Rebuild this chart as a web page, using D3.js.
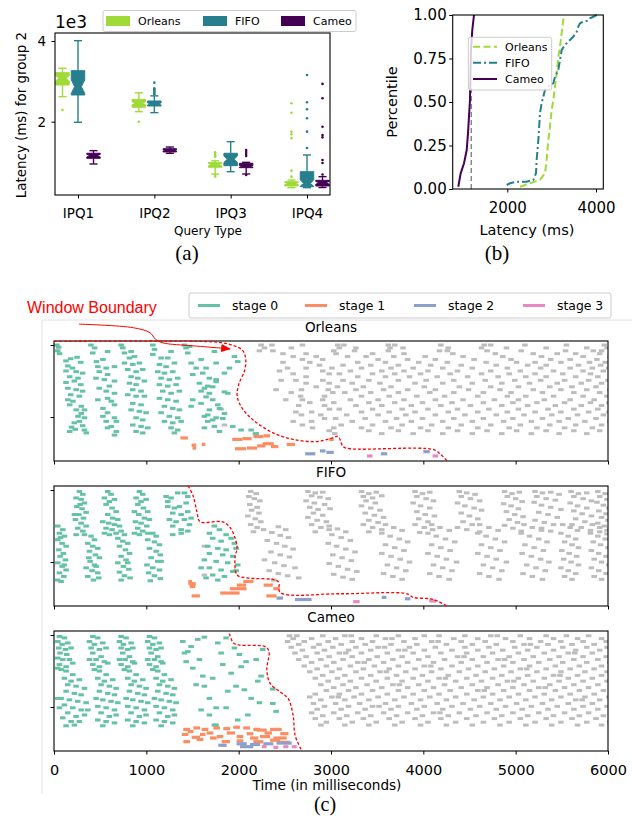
<!DOCTYPE html>
<html><head><meta charset="utf-8">
<script src="https://cdn.jsdelivr.net/npm/d3@7/dist/d3.min.js"></script>
<style>
html,body{margin:0;padding:0;background:#fff;}
svg{display:block;}
</style></head>
<body>
<svg id="fig" width="632" height="818"></svg>
<script>
// ================= Panel (a): box plots =================
const queryTypes = ["IPQ1","IPQ2","IPQ3","IPQ4"];
const systems = ["Orleans","FIFO","Cameo"];
// [whiskerLow, Q1, notchLow, median, notchHigh, Q3, whiskerHigh] per query type (ms)
const orleansBox = [[2620,2910,3010,3075,3140,3215,3323],[2248,2357,2420,2456,2495,2554,2719],[700,870,905,936,965,985,1030],[365,407,440,466,490,513,555]];
const fifoBox    = [[1985,2662,2700,2868,3040,3264,4008],[2224,2389,2415,2440,2465,2513,2640],[761,910,990,1068,1150,1217,1505],[365,390,400,470,560,761,1175]];
const cameoBox   = [[952,1093,1125,1158,1190,1217,1282],[1217,1250,1275,1290,1305,1330,1372],[704,860,875,893,915,969,993],[368,407,450,489,520,547,638]];
const orleansOutliers = [[2290],[2000],[1240,1200,1160,1130,660,640],[2456,2223,1752,1688,1590,786,638]];
const fifoOutliers    = [[],[2967,2830,2800,2770,2740,2710,2680],[],[3158,2480,2307,2084,1753,1347]];
const cameoOutliers   = [[],[],[1300,1250,1200,1150,680],[2937,2582,1876,1670,1612,1052,977,690]];
const latencyTicks = [2000,4000];

// ================= Panel (b): CDF =================
const cdfOrleans = [[2286,0.013],[2512,0.033],[2737,0.052],[2850,0.09],[2888,0.167],[2925,0.28],[2963,0.358],[3000,0.454],[3038,0.51],[3075,0.588],[3113,0.665],[3150,0.76],[3188,0.818],[3226,0.895],[3263,0.971],[3290,1.0]];
const cdfFifo = [[1986,0.023],[2061,0.033],[2211,0.042],[2437,0.042],[2586,0.052],[2647,0.09],[2662,0.167],[2700,0.28],[2737,0.435],[2775,0.493],[2850,0.569],[2963,0.598],[3037,0.607],[3075,0.645],[3150,0.684],[3188,0.741],[3226,0.799],[3301,0.828],[3414,0.856],[3488,0.875],[3565,0.904],[3601,0.933],[3639,0.952],[3714,0.962],[3826,0.968],[3865,0.981],[3939,0.99],[4016,1.0],[4060,1.0]];
const cdfCameo = [[895,0.013],[949,0.09],[1024,0.148],[1085,0.224],[1114,0.32],[1136,0.416],[1159,0.51],[1166,0.607],[1181,0.799],[1211,0.914],[1249,1.0]];
const cdfMarker = [[1188,0],[1188,0.6]];
const cdfXTicks = [2000,4000];
const cdfYTicks = [0,0.25,0.5,0.75,1.0];

// ================= Panel (c): task timelines =================
const stageNames = ["stage 0","stage 1","stage 2","stage 3"];
const timeTicks = [0,1000,2000,3000,4000,5000,6000];
// marks: [start ms, row]   (stage 1-3: [start ms, row, duration ms])
const orleansStage0 = [
0,0, 20,3, 10,8, 30,12, 100,22, 150,19, 220,17, 260,24, 120,29, 170,32, 100,36, 210,37, 280,39, 140,44, 230,46, 100,52, 190,50, 260,55, 120,60, 210,62, 280,64, 150,69, 245,71, 120,76, 175,78, 140,83, 265,85, 210,90, 300,90, 265,95, 230,99, 300,101, 245,106, 190,108, 280,112, 160,114, 300,118, 320,122, 140,120, 200,117,
370,0, 410,4, 390,11, 550,9, 430,23, 500,20, 445,30, 535,32, 625,30, 460,37, 550,41, 425,46, 515,48, 625,50, 460,60, 570,57, 535,64, 625,67, 445,76, 550,74, 590,78, 625,83, 500,88, 550,94, 625,101, 500,99, 535,106, 645,106, 590,113, 645,120, 625,125, 550,115,
697,0, 715,4, 733,11, 805,9, 787,18, 841,16, 733,25, 823,27, 895,25, 769,34, 859,37, 931,34, 805,44, 877,46, 787,53, 859,55, 949,50, 823,62, 913,64, 769,69, 859,71, 949,71, 823,81, 913,83, 805,90, 895,92, 967,94, 859,101, 931,104, 823,111, 913,113, 985,115, 931,122, 859,120,
1040,0, 1058,6, 1040,13, 1130,18, 1238,9, 1202,18, 1112,27, 1184,30, 1274,25, 1094,37, 1166,39, 1256,37, 1130,46, 1220,48, 1310,46, 1112,55, 1202,57, 1292,55, 1148,64, 1238,67, 1328,64, 1112,74, 1202,76, 1292,78, 1166,85, 1256,88, 1328,90, 1130,94, 1220,99, 1310,101, 1166,106, 1256,108, 1347,106, 1238,115, 1310,118, 1274,122,
1383,0, 1400,4, 1419,11, 1440,2, 1455,25, 1563,20, 1509,32, 1473,41, 1581,39, 1653,46, 1545,53, 1635,57, 1726,48, 1563,64, 1653,67, 1473,76, 1563,81, 1689,76, 1455,85, 1653,90, 1762,88, 1599,99, 1726,101, 1635,106, 1707,113, 1599,115, 1762,120,
1707,9, 1924,16, 1960,23, 1726,25, 1870,32, 1617,32, 1816,39, 1726,51, 1689,58, 1599,60, 1816,65, 1852,67, 1617,72, 1744,83, 1816,95, 1635,97, 1798,102, 1689,104, 1906,113, 1996,118, 2105,118, 2159,123
];
const orleansGray = [
[0, 2213,2330,2660,3043,3110,3590,3660,4160,4630,4700,5070,5520,5930],
[4, 2250,2540,3060,3240,3610,3750,4240,4600,4870,5300,5740,5960],
[8, 2195,2340,3000,3225,3590,4145,4230,4660,5030,5510,5810,5900],
[12, 2450,2700,3025,3420,3760,4290,4750,5160,5420,5620,5880],
[16, 2560,2810,3150,3350,3650,3990,4400,4830,5250,5700,5990],
[20, 2660,2880,3480,3800,4100,4520,4920,5350,5560,5850],
[24, 2450,2740,3260,3560,3920,4230,4650,4980,5180,5460,5770,5940],
[28, 2845,3100,3400,3700,4050,4380,4760,5100,5300,5650,5890],
[32, 2500,2700,2980,3300,3620,3860,4180,4500,4880,5240,5560,5800,5980],
[36, 2412,2880,3180,3520,3760,4020,4340,4700,5020,5380,5700,5920],
[40, 2560,2950,3060,3420,3660,3940,4260,4600,4900,5180,5480,5780],
[44, 2700,3260,3560,3820,4120,4450,4780,5080,5300,5620,5860],
[49, 2430,2590,2881,3100,3380,3700,4000,4300,4640,4960,5240,5500,5760,5970],
[53, 2700,2950,3200,3500,3880,4180,4500,4820,5120,5420,5680,5900],
[58, 2810,3040,3320,3620,3980,4360,4700,5000,5340,5580,5840],
[62, 2376,2650,2940,3240,3540,3800,4100,4460,4800,5160,5460,5740,5990],
[66, 2540,2990,3120,3400,3700,4040,4300,4620,4920,5260,5600,5880],
[71, 2640,2900,3300,3600,3900,4200,4560,4880,5080,5380,5700,5960],
[76, 2480,2660,2880,3180,3480,3760,4100,4400,4740,5000,5280,5560,5820],
[80, 2740,3000,3380,3660,3960,4280,4620,4940,5200,5500,5780,5980],
[84, 2620,2900,3240,3520,3840,4160,4480,4820,5100,5400,5680,5900],
[89, 1780,2953,3060,3420,3740,4020,4340,4680,5000,5320,5600,5860],
[93, 2590,2760,3300,3600,3880,4240,4560,4880,5180,5460,5760,5980],
[97, 2650,2860,3140,3480,3780,4100,4420,4760,5060,5360,5640,5920],
[102, 2900,3020,3340,3680,3960,4300,4620,4940,5260,5540,5840],
[106, 2560,2760,3200,3560,3840,4180,4500,4840,5140,5440,5720,5990],
[111, 1816,2660,3080,3420,3740,4060,4380,4700,5020,5340,5620,5900],
[115, 2770,3000,3300,3620,3940,4240,4560,4900,5200,5500,5800],
[119, 2950,3380,3700,4020,4340,4660,4980,5300,5600,5880],
[123, 2150,3010,3520,3860,4180,4500,4820,5140,5440,5740]
];
const orleansStage1 = [[1370,129,80],[1490,139,50],[1500,143,40],[1600,138,40],[1930,131,110],[2040,130,100],[2160,127,110],[2270,126,70],[1960,144,120],[2090,143,110],[2200,140,90],[2260,137,120],[2350,141,80],[2520,138,90],[2980,131,50]];
const orleansStage2 = [[2720,151,110],[2880,147,60],[2950,149,80],[3540,151,70],[4000,148,70]];
const orleansStage3 = [[3390,154,60],[4100,154,60]];
const orleansBoundary = [[0,-5],[1600,-5],[1830,-3],[1950,1],[2040,7],[2075,18],[2065,35],[2000,55],[1985,72],[2040,88],[2156,104],[2373,122],[2589,131],[2849,134],[2990,130],[3077,127],[3131,141],[3207,144],[4106,145],[4182,151],[4258,161]];

const fifoStage0 = [
245,2, 282,6, 209,11, 264,13, 300,18, 217,23, 274,26, 318,31, 238,34, 289,39, 202,41, 264,46, 318,50, 227,53, 282,57, 209,62, 300,62, 253,20, 191,34,
552,2, 588,6, 516,11, 570,16, 625,13, 534,20, 599,25, 643,30, 552,34, 606,39, 498,44, 563,46, 625,48, 661,41, 534,53, 599,55, 643,60, 570,62, 516,60, 679,50,
895,2, 931,6, 859,11, 913,16, 967,13, 877,20, 939,25, 985,30, 888,34, 949,39, 852,44, 913,46, 975,50, 877,53, 931,57, 985,60, 895,62, 841,60, 1004,41, 841,30,
1184,9, 1238,11, 1310,4, 1383,4, 1419,9, 1202,23, 1274,25, 1328,23, 1256,32, 1347,34, 1419,30, 1220,41, 1292,44, 1383,41, 1455,39, 1256,50, 1347,55, 1419,57, 1256,62, 1347,60, 1437,48, 1202,16, 1401,18,
11,50, 65,55, 29,60, 83,64, 11,69, 58,74, 101,78, 22,83, 72,88, 36,92, 94,97, 11,101, 58,106, 101,111, 29,115, 76,120, 11,125, 47,127, 40,66, 80,104,
372,64, 408,69, 336,74, 390,78, 444,81, 354,85, 419,90, 462,94, 361,99, 408,104, 318,108, 383,112, 444,115, 336,120, 397,125, 455,122, 426,106, 347,94,
697,57, 733,62, 661,67, 715,71, 769,74, 679,78, 744,83, 787,88, 697,92, 751,97, 661,101, 722,106, 780,110, 679,114, 733,119, 794,122, 697,125, 769,101,
1040,60, 1076,64, 985,69, 1058,72, 1112,76, 1004,81, 1076,85, 1122,90, 1022,94, 1094,99, 976,104, 1040,108, 1112,111, 994,115, 1058,119, 1122,123, 1013,126, 1130,99,
1707,50, 1762,55, 1653,60, 1834,62, 1689,67, 1780,71, 1888,67, 1924,74, 1635,78, 1744,81, 1834,83, 1942,81, 1653,88, 1798,90, 1906,92, 1599,97, 1726,99, 1852,101, 1960,104, 1653,108, 1780,111, 1906,113, 1563,108, 1689,118, 1816,120, 1942,112, 1744,125, 1617,122
];
const fifoGray = [
1599,78, 1599,118,
2100,2, 2160,5, 2080,9, 2140,12, 2200,15, 2090,20, 2170,24, 2110,28, 2190,32, 2070,36, 2150,40, 2210,44, 2100,48, 2170,52, 2240,55, 2130,58,
2720,2, 2800,4, 2880,3, 2760,8, 2850,10, 2940,12, 2700,15, 2790,18, 2900,20, 2740,24, 2830,27, 2960,26, 2780,32, 2880,35, 2720,38, 2820,42, 2920,44, 2760,48, 2860,52, 2950,55, 2800,58,
3300,2, 3380,5, 3460,3, 3320,9, 3420,11, 3520,8, 3350,15, 3450,18, 3300,22, 3400,25, 3500,28, 3340,32, 3440,35, 3540,38, 3380,42, 3480,45, 3320,48, 3420,52, 3520,55, 3380,58,
3880,2, 3960,5, 4040,3, 3900,9, 4000,12, 4080,15, 3860,18, 3940,22, 4040,25, 3900,30, 3990,34, 4090,36, 3920,40, 4020,44, 3880,48, 3980,52, 4070,55, 3930,59,
4360,2, 4440,4, 4530,6, 4380,9, 4480,12, 4580,15, 4340,18, 4420,22, 4520,25, 4600,28, 4380,32, 4470,36, 4560,40, 4400,44, 4500,48, 4340,52, 4440,55, 4580,58,
4850,2, 4930,5, 5010,3, 4880,9, 4970,12, 5040,16, 4840,19, 4920,22, 5000,26, 4870,30, 4960,34, 5050,37, 4900,41, 4990,45, 4850,49, 4940,53, 5030,57,
5180,2, 5260,4, 5350,3, 5440,6, 5200,9, 5300,12, 5400,14, 5170,17, 5250,21, 5350,24, 5460,27, 5220,31, 5320,34, 5420,38, 5180,42, 5280,45, 5380,48, 5250,53, 5350,57,
5570,2, 5650,5, 5740,4, 5600,9, 5700,12, 5790,15, 5560,18, 5640,22, 5740,25, 5600,29, 5690,33, 5790,36, 5620,40, 5720,44, 5580,48, 5680,52, 5780,56,
5860,2, 5940,5, 5880,9, 5960,13, 5850,17, 5920,21, 5980,25, 5870,29, 5950,33, 5900,38, 5970,42, 5860,46, 5930,50, 5990,54, 5880,58, 5960,61,
2400,51, 2480,55, 2330,59, 2420,63, 2510,66, 2280,70, 2380,74, 2470,78, 2560,82, 2320,86, 2420,90, 2520,93, 2250,97, 2360,101, 2460,105, 2580,108, 2300,112, 2400,116, 2500,119, 2620,122, 2350,125,
2950,50, 3040,54, 3130,58, 2980,62, 3080,66, 3180,70, 2940,74, 3030,78, 3130,82, 3230,86, 2990,90, 3090,94, 3190,98, 2950,102, 3050,106, 3150,110, 3250,113, 3000,117, 3100,121, 3200,124,
3560,48, 3650,52, 3740,56, 3520,60, 3610,64, 3710,68, 3800,72, 3560,76, 3660,80, 3760,84, 3520,88, 3620,92, 3720,96, 3820,100, 3580,104, 3680,108, 3780,112, 3540,116, 3640,120, 3740,124,
4060,48, 4150,52, 4250,56, 4020,60, 4110,64, 4210,68, 4310,72, 4060,76, 4160,80, 4260,84, 4020,88, 4120,92, 4220,96, 4330,100, 4080,104, 4180,108, 4280,112, 4040,116, 4140,120, 4250,124,
4580,48, 4680,52, 4780,56, 4560,60, 4650,64, 4750,68, 4850,72, 4600,76, 4700,80, 4800,84, 4560,88, 4660,92, 4760,96, 4870,100, 4620,104, 4720,108, 4820,112, 4580,116, 4680,120, 4790,124,
5060,48, 5150,52, 5250,56, 5030,60, 5120,64, 5220,68, 5310,72, 5070,76, 5170,80, 5270,84, 5040,88, 5140,92, 5240,96, 5330,100, 5090,104, 5190,108, 5290,112, 5050,116, 5150,120, 5260,124,
5480,48, 5560,52, 5640,56, 5460,60, 5540,64, 5620,68, 5500,72, 5580,76, 5650,80, 5470,84, 5550,88, 5630,92, 5490,96, 5570,100, 5650,104, 5460,108, 5540,112, 5620,116, 5500,120, 5580,124,
5800,48, 5880,52, 5960,56, 5780,60, 5860,64, 5940,68, 5810,72, 5890,76, 5970,80, 5790,84, 5870,88, 5950,92, 5820,96, 5900,100, 5980,104, 5790,108, 5870,112, 5950,116, 5820,120, 5900,124
];
const fifoStage1 = [[1455,127,40],[1455,130,80],[1470,134,60],[1490,147,90],[1800,143,210],[1905,137,180],[1980,132,100],[2050,127,110],[2270,132,100],[2300,147,110],[2375,137,70]];
const fifoStage2 = [[2410,150,70],[2610,152,180],[3550,149,50],[3800,151,60]];
const fifoStage3 = [[3240,155,70],[4065,154,75]];
const fifoBoundary = [[1452,-6],[1506,8],[1549,31],[1582,44],[1820,44],[1907,52],[1983,79],[1961,93],[1983,118],[2091,122],[2427,127],[2449,142],[3099,144],[3824,144],[3890,149],[4074,151],[4150,154],[4258,161]];

const cameoStage0 = [
29,2, 83,4, 11,9, 58,13, 119,11, 22,18, 94,20, 155,18, 36,25, 108,27, 11,32, 65,34, 137,34, 29,41, 101,44, 173,39, 47,48, 11,46,
101,50, 173,55, 83,60, 155,64, 245,62, 119,69, 209,71, 300,74, 101,78, 191,81, 264,83, 47,88, 137,90, 227,92, 318,94, 83,97, 173,101, 264,104, 336,104, 119,108, 209,113, 300,111, 65,115, 155,120, 245,120, 101,126, 191,125, 29,101, 11,88,
390,2, 444,4, 354,9, 408,13, 498,11, 372,18, 462,20, 534,18, 390,25, 480,30, 354,34, 426,34, 516,37, 390,41, 462,44, 552,39, 408,48,
462,50, 534,55, 444,60, 516,64, 606,62, 480,69, 570,71, 643,74, 462,78, 552,81, 625,83, 426,88, 498,90, 588,92, 661,94, 444,99, 534,101, 625,104, 480,108, 570,113, 643,111, 444,118, 534,120, 625,122, 498,126,
697,2, 751,4, 679,9, 722,13, 805,11, 697,18, 769,20, 823,18, 715,25, 787,30, 679,34, 740,34, 823,37, 697,41, 769,44, 841,39, 733,48,
787,50, 859,55, 769,60, 841,64, 931,62, 805,69, 895,71, 967,74, 787,78, 877,81, 949,83, 751,88, 823,90, 913,92, 985,94, 769,99, 859,101, 949,104, 805,108, 895,113, 967,111, 769,118, 859,120, 949,122, 823,126,
1004,2, 1058,4, 985,9, 1040,13, 1112,11, 1004,18, 1076,20, 1130,18, 1022,25, 1094,30, 985,34, 1058,34, 1130,37, 1004,41, 1076,44, 1148,39, 1040,48,
1094,50, 1166,55, 1076,60, 1148,64, 1238,62, 1112,69, 1202,71, 1274,74, 1094,78, 1184,81, 1256,83, 1058,88, 1130,90, 1220,92, 1292,94, 1076,99, 1166,101, 1256,104, 1112,108, 1202,113, 1274,111, 1076,118, 1166,120, 1256,122, 1130,126,
1365,9, 1419,23, 1455,16, 1527,6, 1599,3, 1401,37, 1473,46, 1545,34, 1581,57, 1599,71, 1689,60, 1653,88, 1726,101, 1707,125, 1563,104, 1653,111, 1509,69, 1383,25,
1744,11, 1834,4, 1780,25, 1924,18, 1978,27, 1798,41, 1888,53, 1996,44, 2050,37, 2159,34, 1852,78, 1942,71, 2032,76, 2105,88, 2177,64, 2213,57, 1834,101, 1960,118, 2069,111, 2195,94, 2230,20, 2340,75, 2375,106, 2340,95, 1725,125
];
const cameoGray = [
[1, 2520,2600,2880,3120,3190,3460,3700,3980,4140,4420,4700,4770,5020,5300,5520,5760],
[5, 2560,2760,3020,3300,3560,3630,3880,4300,4560,4860,5120,5380,5640,5900],
[9, 2500,2680,2940,3200,3420,3760,4060,4130,4380,4640,4940,5240,5460,5700,5950],
[13, 2620,2840,3080,3340,3620,3900,4220,4500,4760,5060,5130,5320,5580,5820],
[17, 2540,2780,2990,3240,3480,3550,3820,4100,4420,4680,4960,5200,5480,5740,5960],
[21, 2660,2900,3160,3400,3700,3770,3980,4280,4560,4830,5100,5380,5620,5880],
[25, 2580,2820,3060,3130,3300,3580,3860,4160,4440,4720,5000,5280,5540,5610,5800],
[30, 2700,2950,3200,3470,3740,4020,4340,4410,4620,4900,5160,5440,5700,5950],
[34, 2620,2860,3100,3380,3640,3920,4200,4500,4780,4850,5060,5340,5600,5860],
[38, 2760,3000,3260,3330,3540,3800,4080,4380,4660,4940,5220,5480,5740,5990],
[43, 2680,2920,3180,3440,3700,3980,4050,4280,4560,4840,5120,5400,5660,5900],
[47, 2820,3060,3320,3600,3880,4160,4460,4740,5020,5090,5300,5560,5820],
[51, 2740,2980,3240,3500,3570,3780,4060,4360,4640,4920,5200,5460,5720,5960],
[56, 2880,3120,3400,3680,3960,4240,4540,4820,5100,5380,5450,5640,5900],
[60, 2800,3040,3300,3580,3860,4140,4210,4440,4720,5000,5280,5540,5800],
[64, 2940,3180,3460,3740,4020,4320,4600,4880,4950,5160,5440,5700,5960],
[69, 2860,3100,3360,3640,3710,3920,4200,4500,4780,5060,5340,5600,5860],
[73, 3000,3240,3520,3800,4080,4380,4660,4940,5220,5290,5500,5760],
[77, 2920,3160,3420,3700,3980,4260,4560,4630,4840,5120,5400,5660,5920],
[82, 2800,3060,3300,3580,3860,4140,4440,4720,5000,5280,5560,5820],
[86, 2740,2980,3050,3220,3480,3760,4040,4320,4620,4900,5180,5460,5720,5980],
[90, 2860,3120,3380,3660,3940,4220,4520,4800,5080,5360,5620,5690,5880],
[95, 2780,3020,3280,3560,3840,4120,4400,4700,4980,5260,5540,5800],
[99, 2900,3160,3420,3490,3700,3980,4280,4580,4860,5140,5420,5700,5960],
[103, 2820,3080,3340,3620,3900,4180,4480,4760,5040,5320,5600,5860],
[108, 2760,3000,3260,3540,3800,4080,4150,4360,4660,4940,5220,5500,5760],
[112, 2880,3140,3400,3680,3960,4240,4540,4820,5100,5380,5660,5920],
[116, 2800,3060,3320,3600,3880,4160,4440,4740,5020,5300,5580,5840],
[121, 2920,3200,3460,3740,4020,4320,4620,4900,5180,5460,5740,5990],
[125, 2860,3120,3380,3660,3940,4220,4500,4800,5080,5360,5640,5900]
];
const cameoStage1 = [[1400,131,73],[1509,129,72],[1599,131,72],[1726,129,72],[1834,130,72],[1942,128,72],[2050,129,73],[2159,131,72],[1383,138,72],[1491,142,90],[1653,136,73],[1762,141,72],[1870,136,90],[1978,141,72],[2087,137,72],[1401,148,72],[1545,145,72],[1689,143,73],[1816,148,90],[1978,147,72],[2123,143,90],[2195,132,108],[2340,131,126],[2231,141,109],[2376,143,144],[2159,148,108],[2340,146,108],[2412,149,144],[1450,134,60],[1580,138,60],[2280,136,80],[2450,137,90]];
const cameoStage2 = [[1780,153,90],[1978,151,109],[2015,155,144],[2123,152,108],[2267,151,109],[2412,150,163]];
const cameoStage3 = [[2250,155,53],[2376,156,54],[2484,155,54],[2575,155,53]];
const cameoBoundary = [[1899,-2],[1943,11],[2015,14],[2286,16],[2329,23],[2305,48],[2340,67],[2449,79],[2535,88],[2589,111],[2611,139],[2684,161]];
// annotation arrow path (ms, row) in the Orleans panel
const annotationPath = [[270,-29],[860,-24],[1040,-17],[1100,-8],[1180,-3],[1500,1],[1830,4.5],[1907,5.5]];

// ================= styles =================
const sysColors = ["#a0da39","#277f8e","#440154"];
const stageColors = ["#66c2a5","#fc8d62","#8da0cb","#e78ac3"];
const grayColor = "#bdbdbd";
const FONT = "DejaVu Sans, sans-serif";

const svg = d3.select("#fig");

function pairs(flat){const o=[];for(let i=0;i<flat.length;i+=2)o.push([flat[i],flat[i+1]]);return o;}
function rows(r){const o=[];r.forEach(a=>a.slice(1).forEach(x=>o.push([x,a[0]])));return o;}
function styleAxis(g,size){
  g.select(".domain").remove();
  g.selectAll(".tick line").attr("stroke","#000").attr("stroke-width",1);
  g.selectAll(".tick text").attr("font-family",FONT).attr("font-size",size).attr("fill","#000");
}

// ---------------- Panel (a) ----------------
(function(){
  const g = svg.append("g");
  const L=55,R=330,T=33,B=195;
  const y = d3.scaleLinear().domain([183,4198]).range([B,T]);
  const x = d3.scalePoint().domain(queryTypes).range([78,307]);
  const off = d3.scalePoint().domain(systems).range([-15.5,15.5]);
  const bw = 13.5;
  const boxes=[orleansBox,fifoBox,cameoBox], outs=[orleansOutliers,fifoOutliers,cameoOutliers];
  systems.forEach((s,si)=>{
    const col=sysColors[si];
    queryTypes.forEach((q,qi)=>{
      const cx=x(q)+off(s);
      const [wl,q1,nl,md,nh,q3,wh]=boxes[si][qi];
      g.append("line").attr("x1",cx).attr("x2",cx).attr("y1",y(q3)).attr("y2",y(wh)).attr("stroke",col).attr("stroke-width",1.4);
      g.append("line").attr("x1",cx).attr("x2",cx).attr("y1",y(q1)).attr("y2",y(wl)).attr("stroke",col).attr("stroke-width",1.4);
      [wl,wh].forEach(v=>g.append("line").attr("x1",cx-bw*0.3).attr("x2",cx+bw*0.3).attr("y1",y(v)).attr("y2",y(v)).attr("stroke",col).attr("stroke-width",1.4));
      const l=cx-bw/2,r=cx+bw/2,n=bw/4;
      const p=`M${l},${y(q1)}L${l},${y(nl)}L${l+n},${y(md)}L${l},${y(nh)}L${l},${y(q3)}L${r},${y(q3)}L${r},${y(nh)}L${r-n},${y(md)}L${r},${y(nl)}L${r},${y(q1)}Z`;
      g.append("path").attr("d",p).attr("fill",col).attr("stroke",col).attr("stroke-width",1);
      outs[si][qi].forEach(v=>g.append("circle").attr("cx",cx).attr("cy",y(v)).attr("r",1.3).attr("fill",col));
    });
  });
  g.append("rect").attr("x",L).attr("y",T).attr("width",R-L).attr("height",B-T).attr("fill","none").attr("stroke","#000").attr("stroke-width",1.1);
  const ya=g.append("g").attr("transform",`translate(${L},0)`).call(d3.axisLeft(y).tickValues(latencyTicks).tickFormat(d=>d/1000).tickSize(3.5).tickPadding(5.5));
  styleAxis(ya,13.5);
  const xa=g.append("g").attr("transform",`translate(0,${B})`).call(d3.axisBottom(x).tickSize(3.5).tickPadding(9.9));
  styleAxis(xa,13.5);
  g.append("text").attr("x",55).attr("y",28).attr("font-family",FONT).attr("font-size",17).text("1e3");
  g.append("text").attr("transform","translate(26,115) rotate(-90)").attr("text-anchor","middle").attr("font-family",FONT).attr("font-size",13.4).text("Latency (ms) for group 2");
  g.append("text").attr("x",208).attr("y",235).attr("text-anchor","middle").attr("font-family",FONT).attr("font-size",12).text("Query Type");
  g.append("text").attr("x",187).attr("y",260).attr("text-anchor","middle").attr("font-family","Liberation Serif, serif").attr("font-size",21).text("(a)");
  // legend
  g.append("rect").attr("x",103).attr("y",10.5).attr("width",253).attr("height",21).attr("fill","#fff").attr("fill-opacity",0.85).attr("stroke","#ccc").attr("rx",2);
  const lx=[106,203,281];
  systems.forEach((s,i)=>{
    g.append("rect").attr("x",lx[i]).attr("y",16).attr("width",24).attr("height",10).attr("fill",sysColors[i]);
    g.append("text").attr("x",lx[i]+32).attr("y",25).attr("font-family",FONT).attr("font-size",11).text(s);
  });
})();

// ---------------- Panel (b) ----------------
(function(){
  const g=svg.append("g");
  const L=452.7,R=603.3,T=15,B=189;
  const x=d3.scaleLinear().domain([769,4165]).range([L,R]);
  const y=d3.scaleLinear().domain([0,1]).range([B,T]);
  const line=d3.line().x(d=>x(d[0])).y(d=>y(d[1]));
  g.append("path").attr("d",line(cdfMarker)).attr("fill","none").attr("stroke","#888").attr("stroke-width",1.5).attr("stroke-dasharray","5,3");
  g.append("path").attr("d",line(cdfOrleans)).attr("fill","none").attr("stroke",sysColors[0]).attr("stroke-width",2).attr("stroke-dasharray","7,3.5");
  g.append("path").attr("d",line(cdfFifo)).attr("fill","none").attr("stroke",sysColors[1]).attr("stroke-width",2).attr("stroke-dasharray","8,3,2,3");
  g.append("path").attr("d",line(cdfCameo)).attr("fill","none").attr("stroke",sysColors[2]).attr("stroke-width",2);
  g.append("rect").attr("x",L).attr("y",T).attr("width",R-L).attr("height",B-T).attr("fill","none").attr("stroke","#000").attr("stroke-width",1.1);
  const ya=g.append("g").attr("transform",`translate(${L},0)`).call(d3.axisLeft(y).tickValues(cdfYTicks).tickFormat(d3.format(".2f")).tickSize(3.5).tickPadding(2.5));
  styleAxis(ya,15);
  const xa=g.append("g").attr("transform",`translate(0,${B})`).call(d3.axisBottom(x).tickValues(cdfXTicks).tickFormat(d3.format("d")).tickSize(3.5).tickPadding(9.8));
  styleAxis(xa,15);
  g.append("text").attr("transform","translate(397,102) rotate(-90)").attr("text-anchor","middle").attr("font-family",FONT).attr("font-size",14.5).text("Percentile");
  g.append("text").attr("x",527).attr("y",235).attr("text-anchor","middle").attr("font-family",FONT).attr("font-size",14.5).text("Latency (ms)");
  g.append("text").attr("x",497).attr("y",260).attr("text-anchor","middle").attr("font-family","Liberation Serif, serif").attr("font-size",21).text("(b)");
  g.append("rect").attr("x",468.3).attr("y",37.3).attr("width",83.4).attr("height",52.7).attr("fill","#fff").attr("fill-opacity",0.8).attr("stroke","#ccc").attr("rx",2);
  const ly=[46.7,62.7,79], dash=["7,3.5","8,3,2,3",null];
  systems.forEach((s,i)=>{
    const ln=g.append("line").attr("x1",473).attr("x2",497).attr("y1",ly[i]).attr("y2",ly[i]).attr("stroke",sysColors[i]).attr("stroke-width",2);
    if(dash[i]) ln.attr("stroke-dasharray",dash[i]);
    g.append("text").attr("x",505).attr("y",ly[i]+4).attr("font-family",FONT).attr("font-size",11).text(s);
  });
})();

// ---------------- Panel (c) ----------------
(function(){
  const g=svg.append("g");
  // light frame of the sub-figure
  g.append("line").attr("x1",42).attr("x2",632).attr("y1",320).attr("y2",320).attr("stroke","#e2e2e2");
  g.append("line").attr("x1",42).attr("x2",42).attr("y1",320).attr("y2",794).attr("stroke","#e2e2e2");
  const x=d3.scaleLinear().domain([0,6000]).range([54,608]);
  const defs=svg.append("defs");
  defs.append("marker").attr("id","arrowhead").attr("markerUnits","userSpaceOnUse").attr("markerWidth",10).attr("markerHeight",8)
    .attr("refX",9).attr("refY",4).attr("orient","auto").append("path").attr("d","M0,0L10,4L0,8Z").attr("fill","red");
  const panels=[
    {name:"Orleans",top:341,s0:pairs(orleansStage0),gray:rows(orleansGray),s1:orleansStage1,s2:orleansStage2,s3:orleansStage3,bd:orleansBoundary},
    {name:"FIFO",top:486,s0:pairs(fifoStage0),gray:pairs(fifoGray),s1:fifoStage1,s2:fifoStage2,s3:fifoStage3,bd:fifoBoundary},
    {name:"Cameo",top:631,s0:pairs(cameoStage0),gray:rows(cameoGray),s1:cameoStage1,s2:cameoStage2,s3:cameoStage3,bd:cameoBoundary}
  ];
  const H=120, DUR=60;
  panels.forEach((P,pi)=>{
    const y=d3.scaleLinear().domain([-5.6,161]).range([P.top,P.top+H]);
    const cid="clip"+pi;
    defs.append("clipPath").attr("id",cid).append("rect").attr("x",54).attr("y",P.top).attr("width",554).attr("height",H);
    const mg=g.append("g").attr("clip-path",`url(#${cid})`);
    const draw=(data,color,h)=>mg.selectAll(null).data(data).enter().append("rect")
      .attr("x",d=>x(d[0])).attr("y",d=>y(d[1])-h/2)
      .attr("width",d=>x(d[0]+(d[2]||DUR))-x(d[0])).attr("height",h).attr("fill",color);
    draw(P.gray,grayColor,3);
    draw(P.s0,stageColors[0],3);
    draw(P.s1,stageColors[1],3.2);
    draw(P.s2,stageColors[2],3.2);
    draw(P.s3,stageColors[3],3.2);
    g.append("rect").attr("x",54).attr("y",P.top).attr("width",554).attr("height",H).attr("fill","none").attr("stroke","#000").attr("stroke-width",1.1);
    const ya=g.append("g").attr("transform","translate(54,0)").call(d3.axisLeft(y).tickValues([0,100]).tickFormat("").tickSize(3.5));
    styleAxis(ya,12);
    const xa=g.append("g").attr("transform",`translate(0,${P.top+H})`).call(d3.axisBottom(x).tickValues(timeTicks).tickFormat(pi===2?d3.format("d"):"").tickSize(3.5).tickPadding(10.7));
    styleAxis(xa,14.5);
    g.append("text").attr("x",331).attr("y",P.top-9.5).attr("text-anchor","middle").attr("font-family",FONT).attr("font-size",13.5).text(P.name);
    const bl=d3.line().x(d=>x(d[0])).y(d=>y(d[1])).curve(d3.curveCatmullRom.alpha(0.5));
    g.append("path").attr("d",bl(P.bd)).attr("fill","none").attr("stroke","red").attr("stroke-width",1.3).attr("stroke-dasharray","3,2");
    if(pi===0){
      const al=d3.line().x(d=>x(d[0])).y(d=>y(d[1])).curve(d3.curveCatmullRom.alpha(0.5));
      g.append("path").attr("d",al(annotationPath)).attr("fill","none").attr("stroke","red").attr("stroke-width",1).attr("marker-end","url(#arrowhead)");
    }
  });
  g.append("text").attr("x",327).attr("y",790).attr("text-anchor","middle").attr("font-family",FONT).attr("font-size",13.6).text("Time (in milliseconds)");
  g.append("text").attr("x",325).attr("y",811).attr("text-anchor","middle").attr("font-family","Liberation Serif, serif").attr("font-size",20).text("(c)");
  g.append("text").attr("x",27).attr("y",313).attr("font-family","Liberation Sans, Arial, sans-serif").attr("font-size",16).attr("fill","red").text("Window Boundary");
  // legend
  g.append("rect").attr("x",189).attr("y",293).attr("width",422).attr("height",25).attr("fill","#fff").attr("stroke","#ccc").attr("rx",2);
  const lx=[198,305,414,523];
  stageNames.forEach((s,i)=>{
    g.append("line").attr("x1",lx[i]).attr("x2",lx[i]+22).attr("y1",305.5).attr("y2",305.5).attr("stroke",stageColors[i]).attr("stroke-width",3);
    g.append("text").attr("x",lx[i]+34).attr("y",310).attr("font-family",FONT).attr("font-size",12.4).text(s);
  });
})();
</script>
</body></html>
